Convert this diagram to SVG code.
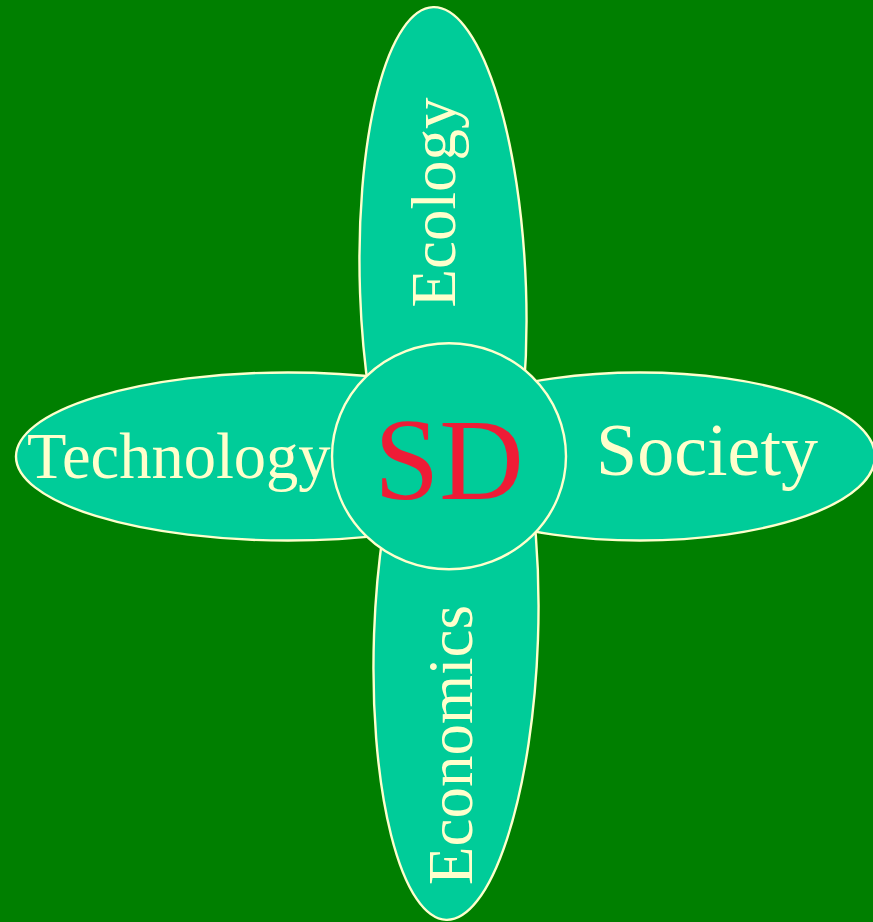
<svg xmlns="http://www.w3.org/2000/svg" width="873" height="922" viewBox="0 0 873 922">
<style>
.petal{fill:#00CC99;stroke:#FFFFCC;stroke-width:2.4}
.lbl{font-family:"Liberation Serif","Times New Roman",serif;fill:#FFFFCC}
.sd{font-family:"Liberation Serif","Times New Roman",serif;fill:#EE1C36}
</style>
<rect x="0" y="0" width="873" height="922" fill="#007F00"/>
<g id="ecology">
<ellipse class="petal" cx="443" cy="290" rx="83" ry="283" transform="rotate(-2 443 290)"/>
<text class="lbl" font-size="63" transform="translate(455 307.5) rotate(-90)">Ecology</text>
</g>
<g id="economics">
<ellipse class="petal" cx="456" cy="637" rx="82" ry="283" transform="rotate(2 456 637)"/>
<text class="lbl" font-size="63" transform="translate(472 885) rotate(-90)">Economics</text>
</g>
<g id="technology">
<ellipse class="petal" cx="288" cy="456.5" rx="272" ry="84"/>
<text class="lbl" font-size="64.5" x="27" y="478">Technology</text>
</g>
<g id="society">
<ellipse class="petal" cx="640" cy="456.5" rx="235" ry="84"/>
<text class="lbl" font-size="74" x="596" y="475">Society</text>
</g>
<g id="sd">
<ellipse class="petal" cx="449" cy="456.3" rx="117" ry="113"/>
<text class="sd" font-size="117" x="449" y="499" text-anchor="middle">SD</text>
</g>
<g id="connectors"></g>
</svg>
